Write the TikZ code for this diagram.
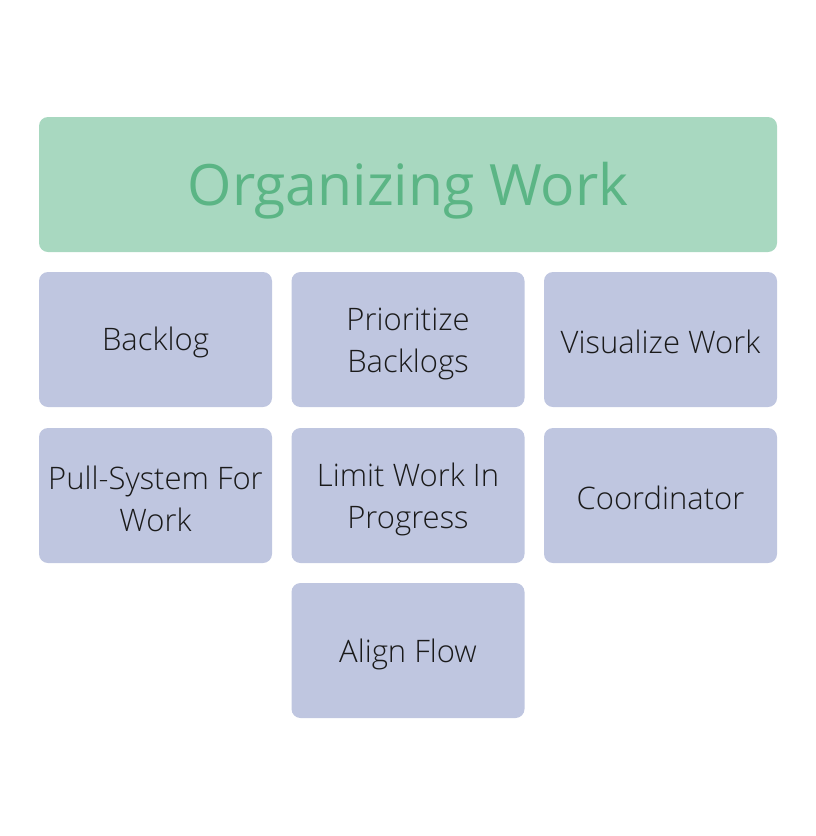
\documentclass[tikz,border=0pt]{standalone}
\usepackage{fontspec}
\setmainfont{Open Sans}[UprightFont=* Light]
\newfontfamily\titlefont{Open Sans}
\definecolor{hdrfill}{HTML}{A8D8C0}
\definecolor{hdrtext}{HTML}{5BB585}
\definecolor{boxfill}{HTML}{BFC6E0}
\definecolor{boxtext}{HTML}{1A1A1A}
\begin{document}
\begin{tikzpicture}[x=1pt,y=-1pt,
  hdr/.style={fill=hdrfill,rounded corners=9pt,minimum width=738pt,minimum height=135pt,inner sep=0pt},
  hdrlabel/.style={text=hdrtext,inner sep=0pt,font=\titlefont\fontsize{57}{66}\selectfont},
  itembox/.style={fill=boxfill,rounded corners=9pt,minimum width=233pt,minimum height=135pt,inner sep=0pt},
  itemlabel/.style={text=boxtext,align=center,inner sep=0pt,font=\fontsize{31}{42}\selectfont}]
\useasboundingbox (0,0) rectangle (816,836);
\node[hdr] (title) at (408,184.5) {};
\node[hdrlabel] (titletext) at ([yshift=-6pt]title.center) {Organizing Work};
\foreach \n/\x/\y in {b1/155.5/339.5, b2/408/339.5, b3/660.5/339.5, b4/155.5/495.5, b5/408/495.5, b6/660.5/495.5, b7/408/650.5}
  \node[itembox] (\n) at (\x,\y) {};
\node[itemlabel] (t1) at ([yshift=-3pt]b1.center) {Backlog};
\node[itemlabel] (t2) at ([yshift=-4pt]b2.center) {Prioritize\\Backlogs};
\node[itemlabel] (t3) at ([yshift=-2pt]b3.center) {Visualize Work};
\node[itemlabel] (t4) at ([yshift=-3pt]b4.center) {Pull-System For\\Work};
\node[itemlabel] (t5) at ([yshift=-4pt]b5.center) {Limit Work In\\Progress};
\node[itemlabel] (t6) at ([yshift=-2pt]b6.center) {Coordinator};
\node[itemlabel] (t7) at ([yshift=-4pt]b7.center) {Align Flow};
\end{tikzpicture}
\end{document}
